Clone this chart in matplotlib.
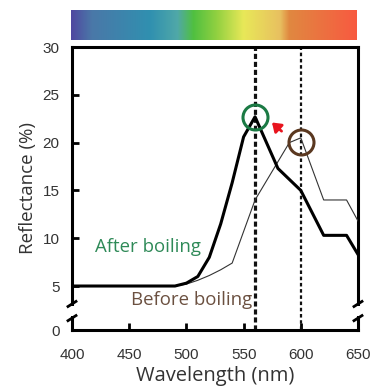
import numpy as np
import matplotlib
matplotlib.use("Agg")
import matplotlib.pyplot as plt
from matplotlib.colors import LinearSegmentedColormap

# reflectance spectra
wl_after = [400, 490, 500, 510, 520, 530, 540, 550, 560, 570, 580, 600, 620, 640, 650]
refl_after = [5.0, 5.0, 5.3, 6.0, 8.0, 11.5, 15.8, 20.6, 22.7, 20.0, 17.3, 15.0, 10.3, 10.3, 8.3]

wl_before = [400, 490, 500, 510, 520, 530, 540, 560, 590, 600, 620, 640, 650]
refl_before = [5.0, 5.0, 5.2, 5.6, 6.1, 6.7, 7.4, 14.0, 20.0, 20.5, 14.0, 14.0, 11.8]

peak_after = (560, 22.7)
peak_before = (600, 20.1)

xticks = [400, 450, 500, 550, 600, 650]
yticks = [0.4, 5, 10, 15, 20, 25, 30]
ytick_labels = ["0", "5", "10", "15", "20", "25", "30"]

# spectrum bar colours
spec_stops = [(400, "#5048a0"), (418, "#4a78a8"), (469, "#3090b0"), (493, "#50a8a8"),
              (507, "#50c040"), (527, "#90d040"), (551, "#e8e858"), (583, "#e8c060"),
              (591, "#e08840"), (650, "#f85a40")]

TICK_FONT = "Liberation Sans"
TEXT_FONT = "Open Sans"

fig = plt.figure(figsize=(3.71, 3.92), dpi=100)
W, H = 371, 392

# --- spectrum bar ---
cax = fig.add_axes([71 / W, 1 - 40 / H, 286 / W, 30 / H])
pos = [(w - 400) / 250 for w, _ in spec_stops]
cmap = LinearSegmentedColormap.from_list("spec", list(zip(pos, [c for _, c in spec_stops])))
grad = np.linspace(0, 1, 512)[None, :]
cax.imshow(grad, aspect="auto", cmap=cmap, extent=[400, 650, 0, 1])
cax.axis("off")

# --- main plot ---
ax = fig.add_axes([72 / W, 1 - 330 / H, 286 / W, 283 / H])
ax.plot(wl_before, refl_before, color="#333333", lw=0.8, zorder=3)
ax.plot(wl_after, refl_after, color="black", lw=2.2, zorder=4)

ax.axvline(560, color="#111111", lw=2.3, ls=(0, (1.6, 0.9)), zorder=2)
ax.axvline(600, color="#111111", lw=1.6, ls=(0, (1.6, 1.2)), zorder=2)

ax.plot(*peak_after, marker="o", ms=18, mfc="none", mec="#1b7a44", mew=2.2, zorder=5)
ax.plot(*peak_before, marker="o", ms=18, mfc="none", mec="#5a3820", mew=2.2, zorder=5)
ax.annotate("", xy=(573, 22.3), xytext=(585, 21.0),
            arrowprops=dict(arrowstyle="-|>,head_length=0.5,head_width=0.35",
                            color="#e8141e", lw=2.0), zorder=6)

ax.text(420, 9.1, "After boiling", color="#2f8a58", fontsize=13.4,
        family=TEXT_FONT, va="center", ha="left")
ax.text(452, 3.5, "Before boiling", color="#6b5040", fontsize=13.4,
        family=TEXT_FONT, va="center", ha="left")

ax.set_xlim(400, 650)
ax.set_ylim(0.4, 30)
ax.set_xticks(xticks)
ax.set_yticks(yticks)
ax.set_yticklabels(ytick_labels)
ax.tick_params(direction="in", length=5, width=2, colors="black", labelcolor="#333333",
               labelsize=11)
ax.tick_params(axis="x", pad=13)
ax.tick_params(axis="y", pad=9)
for lab in ax.get_xticklabels() + ax.get_yticklabels():
    lab.set_family(TICK_FONT)
for s in ax.spines.values():
    s.set_linewidth(2.2)

ax.set_xlabel("Wavelength (nm)", fontsize=14.5, family=TEXT_FONT, color="#333333", labelpad=3)
ax.set_ylabel("Reflectance (%)", fontsize=13.5, family=TEXT_FONT, color="#333333", labelpad=4)

# axis break marks on both spines
for xa in (0, 1):
    ax.plot([xa, xa], [0.049, 0.085], transform=ax.transAxes, color="white",
            lw=4, clip_on=False, zorder=10, solid_capstyle="butt")
    for yc in (0.092, 0.042):
        ax.plot([xa - 0.014, xa + 0.014], [yc - 0.009, yc + 0.009],
                transform=ax.transAxes, color="black", lw=2, clip_on=False, zorder=11)

fig.savefig("out.png", dpi=100)
